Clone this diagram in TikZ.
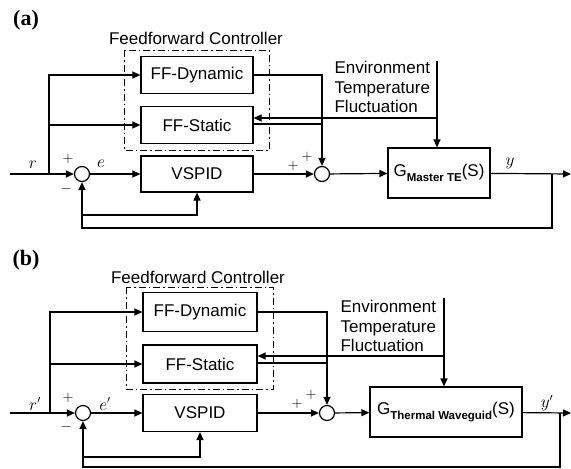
\documentclass[tikz,border=0pt]{standalone}
\usepackage{fontspec}
\setmainfont{Liberation Sans}
\newfontfamily\tagfont{Liberation Serif}
\usetikzlibrary{arrows.meta}

\begin{document}
\begin{tikzpicture}[x=1pt,y=-1pt,line width=1.2pt,
  font=\fontsize{17}{19.5}\selectfont,
  block/.style={draw,minimum width=112pt,minimum height=37pt,inner sep=0pt},
  sumnode/.style={draw,circle,minimum size=15pt,inner sep=0pt},
  arr/.style={-{Triangle[length=8pt,width=7pt]}},
  ffbox/.style={dash pattern=on 7pt off 3pt on 1.5pt off 3pt},
  tagtext/.style={font=\tagfont\bfseries\fontsize{22}{22}\selectfont},
  sig/.style={font=\fontsize{16}{16}\selectfont},
  sgn/.style={font=\fontsize{14}{14}\selectfont}]
  \useasboundingbox (0,0) rectangle (571,469);

  % ---------- (a) ----------
  \node[tagtext] (a-tag) at (26,20) {(a)};
  \node (a-ffc) at (196,38) {Feedforward Controller};
  \draw[ffbox,line width=1pt] (124,50) rectangle (269,150);
  \node[block] (a-dyn) at (197,75) {FF-Dynamic};
  \node[block] (a-stat) at (197,125) {FF-Static};
  \node[block,minimum height=36pt] (a-pid) at (197,174) {VSPID};
  \node[sumnode] (a-s1) at (82,174) {};
  \node[sumnode] (a-s2) at (322,174) {};
  \node[draw,minimum width=102pt,minimum height=50pt,inner sep=0pt] (a-g) at (439,173)
    {G\raisebox{-5pt}{\fontsize{11.5}{12}\selectfont\bfseries Master TE}(S)};
  \node[align=left,anchor=west,inner sep=0pt] (a-envtxt) at (334,87)
    {Environment\\Temperature\\Fluctuation};

  \coordinate (a-in) at (10,174);
  \coordinate (a-jn) at (49,174);
  \coordinate (a-env) at (437,61);
  \coordinate (a-oj) at (552,174);
  \coordinate (a-out) at (571,174);
  \coordinate (a-fb) at (0,228);
  \coordinate (a-fb2) at (0,215);
  \coordinate (a-sin) at ([yshift=7pt]a-stat.east);
  \coordinate (a-sout) at ([yshift=1pt]a-stat.east);

  \draw[arr] (a-in) -- (a-s1);
  \draw[arr] (a-jn) |- (a-dyn);
  \draw[arr] (a-jn |- a-stat) -- (a-stat);
  \draw[arr] (a-s1) -- (a-pid);
  \draw[arr] (a-pid) -- (a-s2);
  \draw[arr] (a-dyn) -| (a-s2);
  \draw (a-sout) -- (a-sout -| a-s2);
  \draw[arr] (a-sin -| a-env) -- (a-sin);
  \draw[arr] (a-env) -- (a-env |- a-g.north);
  \draw[arr] (a-s2) -- (a-g);
  \draw[arr] (a-g) -- (a-out);
  \draw[arr] (a-oj) |- (a-fb -| a-s1) -- (a-s1);
  \draw[arr] (a-fb2 -| a-s1) -| (a-pid);

  \node[sig] (a-r) at (33,165) {$r$};
  \node[sgn] (a-p1) at (68,159) {$+$};
  \node[sgn] (a-m1) at (66,189) {$-$};
  \node[sig] (a-e) at (101,164) {$e$};
  \node[sgn] (a-p2) at (293,166) {$+$};
  \node[sgn] (a-p3) at (307,157) {$+$};
  \node[sig] (a-y) at (510,163) {$y$};

  % ---------- (b) ----------
  \node[tagtext] (b-tag) at (26,260) {(b)};
  \node (b-ffc) at (198,277) {Feedforward Controller};
  \draw[ffbox,line width=1pt] (126,287) rectangle (273,389);
  \node[block,minimum width=114pt,minimum height=39pt] (b-dyn) at (200,312) {FF-Dynamic};
  \node[block,minimum width=114pt,minimum height=38pt] (b-stat) at (200,364) {FF-Static};
  \node[block,minimum width=114pt] (b-pid) at (200,413) {VSPID};
  \node[sumnode] (b-s1) at (83,413) {};
  \node[sumnode] (b-s2) at (327,413) {};
  \node[draw,minimum width=152pt,minimum height=50pt,inner sep=0pt] (b-g) at (446,412)
    {G\raisebox{-5pt}{\fontsize{11.5}{12}\selectfont\bfseries Thermal Waveguid}(S)};
  \node[align=left,anchor=west,inner sep=0pt] (b-envtxt) at (340,326)
    {Environment\\Temperature\\Fluctuation};

  \coordinate (b-in) at (10,413);
  \coordinate (b-jn) at (50,413);
  \coordinate (b-env) at (444,298);
  \coordinate (b-oj) at (560,413);
  \coordinate (b-out) at (571,413);
  \coordinate (b-fb) at (0,467);
  \coordinate (b-fb2) at (0,457);
  \coordinate (b-sin) at ([yshift=8pt]b-stat.east);
  \coordinate (b-sout) at ([yshift=1pt]b-stat.east);

  \draw[arr] (b-in) -- (b-s1);
  \draw[arr] (b-jn) |- (b-dyn);
  \draw[arr] (b-jn |- b-stat) -- (b-stat);
  \draw[arr] (b-s1) -- (b-pid);
  \draw[arr] (b-pid) -- (b-s2);
  \draw[arr] (b-dyn) -| (b-s2);
  \draw (b-sout) -- (b-sout -| b-s2);
  \draw[arr] (b-sin -| b-env) -- (b-sin);
  \draw[arr] (b-env) -- (b-env |- b-g.north);
  \draw[arr] (b-s2) -- (b-g);
  \draw[arr] (b-g) -- (b-out);
  \draw[arr] (b-oj) |- (b-fb -| b-s1) -- (b-s1);
  \draw[arr] (b-fb2 -| b-s1) -| (b-pid);

  \node[sig] (b-r) at (35,404) {$r'$};
  \node[sgn] (b-p1) at (68,398) {$+$};
  \node[sgn] (b-m1) at (66,427) {$-$};
  \node[sig] (b-e) at (105,404) {$e'$};
  \node[sgn] (b-p2) at (297,404) {$+$};
  \node[sgn] (b-p3) at (311,395) {$+$};
  \node[sig] (b-y) at (547,403) {$y'$};
\end{tikzpicture}
\end{document}
